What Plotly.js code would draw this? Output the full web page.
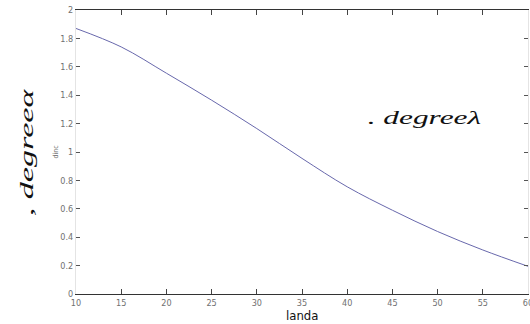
<!DOCTYPE html>
<html>
<head>
<meta charset="utf-8">
<script src="https://cdn.plot.ly/plotly-3.0.1.min.js"></script>
<style>
  html, body { margin: 0; padding: 0; background: #fff; }
  #chart { width: 530px; height: 324px; }
  /* wide italic lettering for the two degree notes */
  .annotation[data-index="0"] .annotation-text {
    transform-box: fill-box;
    transform-origin: center;
    transform: scaleX(1.8);
  }
  .annotation[data-index="1"] .annotation-text {
    transform-box: fill-box;
    transform-origin: center;
    transform: scaleX(1.65);
  }
</style>
</head>
<body>
<div id="chart"></div>
<script>
// landa (degrees) against dinc
const landa = [10, 15, 20, 25, 30, 35, 40, 45, 50, 55, 60];
const dinc = [1.87, 1.74, 1.555, 1.365, 1.165, 0.955, 0.755, 0.59, 0.44, 0.31, 0.195];
const xTicks = [10, 15, 20, 25, 30, 35, 40, 45, 50, 55, 60];
const yTicks = [0, 0.2, 0.4, 0.6, 0.8, 1, 1.2, 1.4, 1.6, 1.8, 2];

const narrow = 'Liberation Sans Narrow, DejaVu Sans Condensed, Liberation Sans, Arial, sans-serif';
const tickFont = { family: narrow, size: 9, color: '#707070' };
const noteFont = { family: 'Liberation Serif, Times New Roman, serif', size: 19, color: '#111' };

const trace = {
  x: landa,
  y: dinc,
  type: 'scatter',
  mode: 'lines',
  line: { color: '#6868ac', width: 1, shape: 'spline', smoothing: 1 },
  hoverinfo: 'skip'
};

const layout = {
  width: 530,
  height: 324,
  margin: { l: 76, r: 2, t: 10, b: 30 },
  paper_bgcolor: '#ffffff',
  plot_bgcolor: '#ffffff',
  showlegend: false,
  xaxis: {
    range: [10, 60],
    tickvals: xTicks,
    ticktext: xTicks.map(String),
    ticks: 'inside',
    ticklen: 5,
    tickcolor: '#444',
    ticklabeloverflow: 'allow',
    showline: true,
    linecolor: '#333',
    linewidth: 1,
    mirror: 'ticks',
    showgrid: false,
    zeroline: false,
    tickfont: tickFont
  },
  yaxis: {
    range: [0, 2],
    tickvals: yTicks,
    ticktext: yTicks.map(v => String(v)),
    ticks: 'inside',
    ticklen: 4,
    tickcolor: '#555',
    showline: true,
    linecolor: '#e4e4e4',
    linewidth: 1,
    mirror: 'ticks',
    showgrid: false,
    zeroline: false,
    tickfont: tickFont,
    title: {
      text: 'dinc',
      font: { family: narrow, size: 7, color: '#777' },
      standoff: 0
    }
  },
  annotations: [
    {
      text: '<i>, degreeα</i>',
      xref: 'paper', yref: 'paper',
      x: -0.108, y: 0.497,
      xanchor: 'center', yanchor: 'middle',
      textangle: -90,
      showarrow: false,
      font: noteFont
    },
    {
      text: '<i>. degreeλ</i>',
      xref: 'paper', yref: 'paper',
      x: 0.77, y: 0.62,
      xanchor: 'center', yanchor: 'middle',
      showarrow: false,
      font: noteFont
    },
    {
      // x-axis label, set close under the tick numbers
      text: 'landa',
      xref: 'paper', yref: 'paper',
      x: 0.5, y: -0.075,
      xanchor: 'center', yanchor: 'middle',
      showarrow: false,
      font: { family: narrow, size: 13, color: '#111' }
    }
  ]
};

Plotly.newPlot('chart', [trace], layout, { staticPlot: true, displayModeBar: false });
</script>
</body>
</html>
